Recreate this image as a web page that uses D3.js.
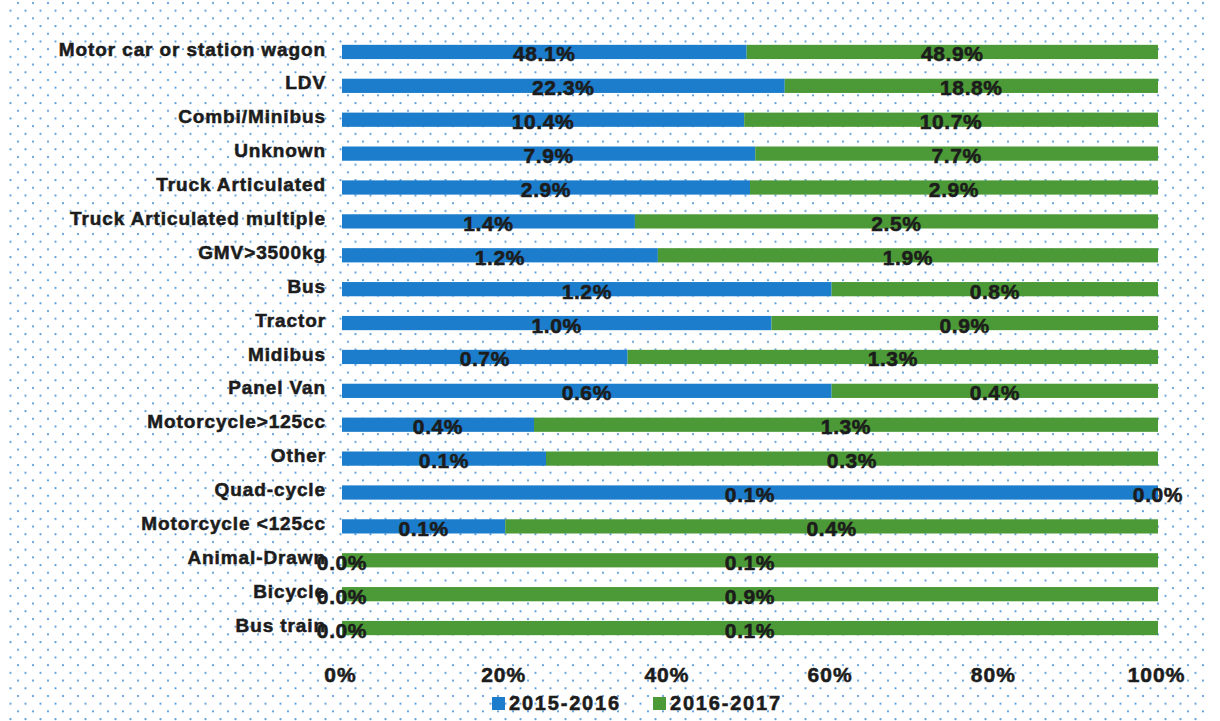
<!DOCTYPE html>
<html>
<head>
<meta charset="utf-8">
<script src="https://cdn.jsdelivr.net/npm/d3@7/dist/d3.min.js"></script>
<style>
  html, body { margin: 0; padding: 0; background: #fff; }
  svg { display: block; }
  text { font-family: "Liberation Sans", Arial, sans-serif; font-weight: bold; fill: #1c1c1c;
         stroke: #1c1c1c; stroke-width: 0.55px; paint-order: stroke; }
</style>
</head>
<body>
<svg id="chart" width="1220" height="721"></svg>
<script>
// Vehicle types involved, share by period
const categories = [
  "Motor car or station wagon", "LDV", "Combi/Minibus", "Unknown",
  "Truck Articulated", "Truck Articulated multiple", "GMV>3500kg", "Bus",
  "Tractor", "Midibus", "Panel Van", "Motorcycle>125cc", "Other",
  "Quad-cycle", "Motorcycle <125cc", "Animal-Drawn", "Bicycle", "Bus train"
];
const series = ["2015-2016", "2016-2017"];
const values2015 = [48.1, 22.3, 10.4, 7.9, 2.9, 1.4, 1.2, 1.2, 1.0, 0.7, 0.6, 0.4, 0.1, 0.1, 0.1, 0.0, 0.0, 0.0];
const values2016 = [48.9, 18.8, 10.7, 7.7, 2.9, 2.5, 1.9, 0.8, 0.9, 1.3, 0.4, 1.3, 0.3, 0.0, 0.4, 0.1, 0.9, 0.1];
const tickValues = [0, 0.2, 0.4, 0.6, 0.8, 1.0];
const colors = ["#1b7dcb", "#4c9a37"];

const svg = d3.select("#chart");

// dotted backdrop
const defs = svg.append("defs");
const pat = defs.append("pattern")
  .attr("id", "dots").attr("patternUnits", "userSpaceOnUse")
  .attr("width", 15).attr("height", 15.4);
pat.append("circle").attr("cx", 3).attr("cy", 3).attr("r", 1.15).attr("fill", "#629fd8");
pat.append("circle").attr("cx", 10.5).attr("cy", 10.7).attr("r", 1.15).attr("fill", "#629fd8");
svg.append("rect").attr("x", 4).attr("y", 0).attr("width", 1204).attr("height", 721)
  .attr("fill", "url(#dots)");

const rows = categories.map((c, i) => ({ cat: c, [series[0]]: values2015[i], [series[1]]: values2016[i] }));

// 100% stacked bars
const stack = d3.stack().keys(series).offset(d3.stackOffsetExpand);
const layers = stack(rows);

const x = d3.scaleLinear().domain([0, 1]).range([342, 1158]);
const y = d3.scaleBand().domain(categories).range([35, 645]).paddingInner(0.58).paddingOuter(0.29);

const g = svg.append("g");
layers.forEach((layer, li) => {
  g.selectAll(null).data(layer).join("rect")
    .attr("x", d => x(d[0]))
    .attr("y", (d, i) => y(categories[i]))
    .attr("width", d => Math.max(0, x(d[1]) - x(d[0])))
    .attr("height", y.bandwidth())
    .attr("fill", colors[li]);
});

// value labels centred in each segment
layers.forEach((layer, li) => {
  const vals = li === 0 ? values2015 : values2016;
  g.selectAll(null).data(layer).join("text")
    .attr("x", d => (x(d[0]) + x(d[1])) / 2)
    .attr("y", (d, i) => y(categories[i]) + y.bandwidth() / 2 + 2)
    .attr("text-anchor", "middle")
    .attr("dominant-baseline", "central")
    .style("font-size", "21px")
    .style("letter-spacing", "0.6px")
    .text((d, i) => vals[i].toFixed(1) + "%");
});

// category labels
const yAxis = d3.axisLeft(y).tickSize(0).tickPadding(0);
svg.append("g").attr("transform", "translate(326,-2.5)").call(yAxis)
  .call(s => s.select(".domain").remove())
  .selectAll("text")
  .style("font-size", "19px").style("letter-spacing", "0.9px")
  .style("font-family", "'Liberation Sans', Arial, sans-serif");

// bottom percentage axis
const xAxis = d3.axisBottom(x).tickValues(tickValues).tickFormat(d3.format(".0%")).tickSize(0).tickPadding(0);
svg.append("g").attr("transform", "translate(-2,667)").call(xAxis)
  .call(s => s.select(".domain").remove())
  .selectAll("text")
  .attr("dy", "0.71em")
  .style("font-size", "21px").style("letter-spacing", "1px")
  .style("font-family", "'Liberation Sans', Arial, sans-serif");

// legend
const legendX = [492, 653];
const leg = svg.append("g");
series.forEach((s, i) => {
  leg.append("rect").attr("x", legendX[i]).attr("y", 697).attr("width", 13).attr("height", 13).attr("fill", colors[i]);
  leg.append("text").attr("x", legendX[i] + 17).attr("y", 710)
    .style("font-size", "20px").style("letter-spacing", "1.8px")
    .text(s);
});
</script>
</body>
</html>
